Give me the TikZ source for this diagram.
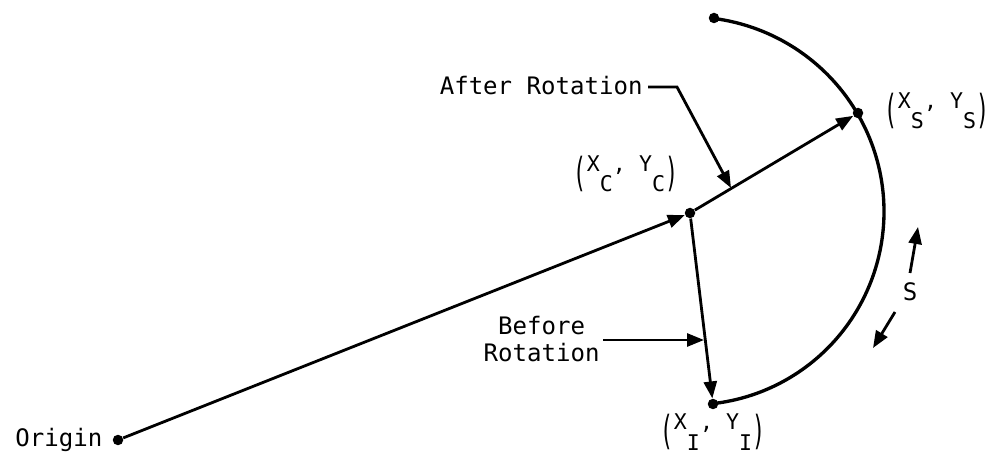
\documentclass[tikz,border=0pt]{standalone}
\usepackage{fontspec}
\usepackage{graphicx}
\setmainfont{DejaVu Sans Mono}
\usetikzlibrary{arrows.meta}
\newcommand\lp{\raisebox{-0.68em}{\scalebox{1}[1.85]{(}}}
\newcommand\rp{\raisebox{-0.68em}{\scalebox{1}[1.85]{)}}}
\newcommand\pairlbl[1]{\lp X\raisebox{-0.95em}{#1}, Y\raisebox{-0.95em}{#1}\rp}
\begin{document}
\begin{tikzpicture}[x=0.02cm,y=-0.02cm,
  ln/.style={line width=1.6pt},
  arr/.style={ln,-{Triangle[length=0.34cm,width=0.26cm]}},
  dot/.style={circle,fill,inner sep=0pt,minimum size=0.21cm},
  txt/.style={font=\fontsize{13.7}{15.3}\selectfont,inner sep=0pt},
  lbl/.style={font=\fontsize{12.3}{14}\selectfont,inner sep=0pt}]
\useasboundingbox (0,0) rectangle (1000,465);
% points
\node[dot] (O) at (118,440) {};
\node[dot] (C) at (690,213) {};
\node[dot] (S) at (858,113) {};
\node[dot] (I) at (713,404) {};
\node[dot] (T) at (714,18) {};
% arc
\draw[line width=1.9pt] plot[domain=7:173,samples=80,smooth] ({690+(196-4*(\x-7)/166)*sin(\x)},{213-(196-4*(\x-7)/166)*cos(\x)});
% vectors
\draw[arr] (O) -- (C);
\draw[arr] (C) -- (S);
\draw[arr] (C) -- (I);
% labels
\node[txt,anchor=west] (Or) at (15,440) {Origin};
\node[txt,anchor=east] (AR) at (643,86) {After Rotation};
\coordinate (ARk) at (677,87);
\coordinate (ARt) at (731,188);
\draw[arr] ([xshift=0.1cm,yshift=-0.02cm]AR.east) -- (ARk) -- (ARt);
\node[txt,anchor=east,align=center] (BR) at (600,339) {Before\\Rotation};
\coordinate (BRt) at (704,340);
\draw[arr] ([xshift=0.06cm]BR.east |- BRt) -- (BRt);
\node[lbl] (LC) at (626,174) {\pairlbl{C}};
\node[lbl] (LS) at (937,111) {\pairlbl{S}};
\node[lbl] (LI) at (713,432) {\pairlbl{I}};
% S
\node[txt] (Sl) at (910,292) {S};
\coordinate (Sa1) at (910,273);
\coordinate (Sa2) at (918,227);
\coordinate (Sb1) at (895,312);
\coordinate (Sb2) at (873,348);
\draw[arr] (Sa1) -- (Sa2);
\draw[arr] (Sb1) -- (Sb2);
\end{tikzpicture}
\end{document}
